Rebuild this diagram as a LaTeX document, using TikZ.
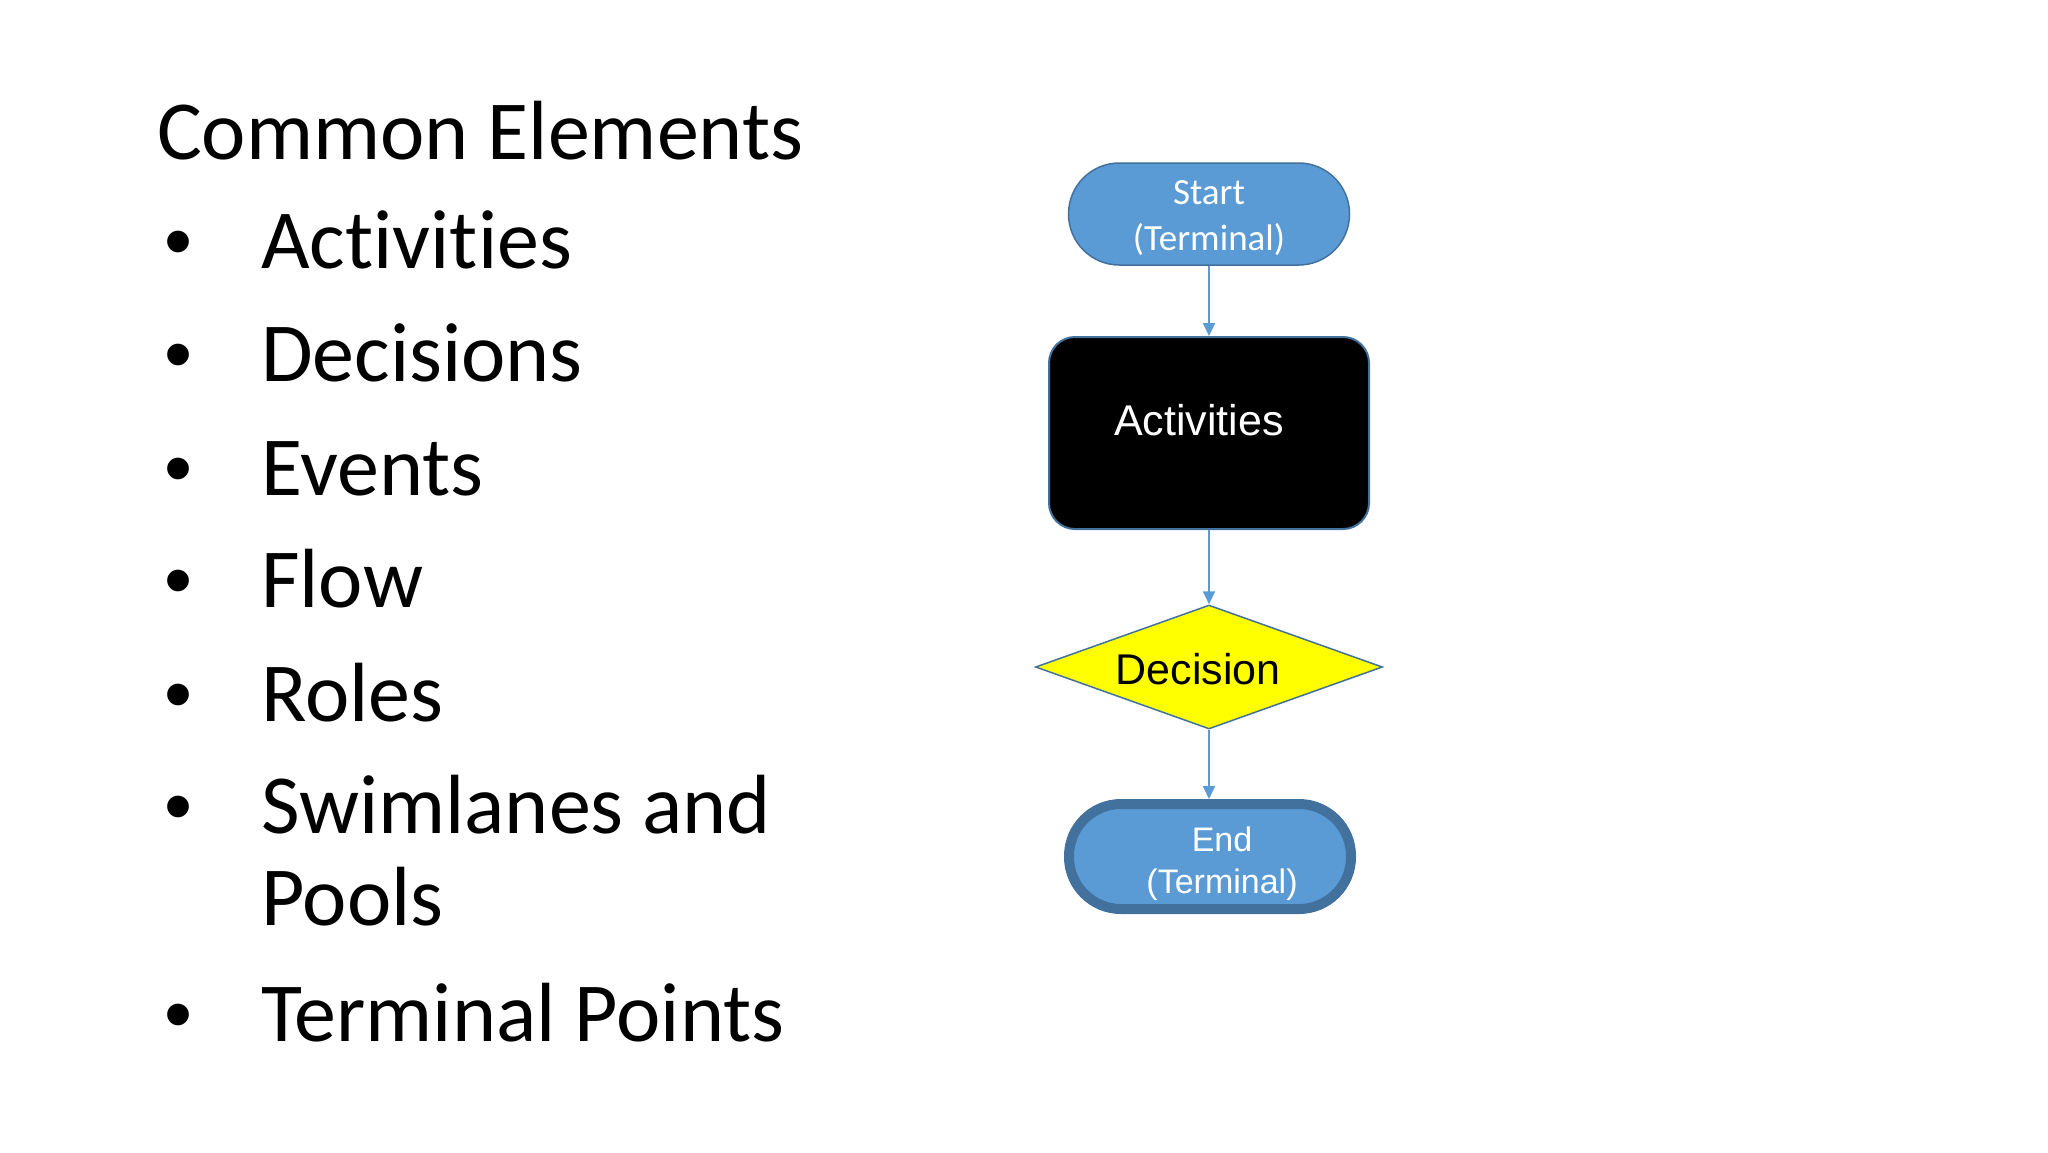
\documentclass[tikz,border=0pt]{standalone}
\usepackage{fontspec}
\setmainfont{Carlito}[Ligatures=NoCommon]
\newfontfamily\arialf{Liberation Sans}
\usetikzlibrary{shapes.geometric,arrows.meta}
\definecolor{termfill}{RGB}{91,155,213}
\definecolor{termborder}{RGB}{65,113,156}
\definecolor{flowcol}{RGB}{91,155,213}
\definecolor{diayellow}{RGB}{255,255,0}
\tikzset{
  bigtext/.style={inner sep=0pt, anchor=base west, font=\fontsize{84}{100}\selectfont},
  bulletdot/.style={inner sep=0pt, anchor=base, font=\arialf\fontsize{80}{100}\selectfont},
  startshape/.style={rectangle, rounded corners=50.9pt, minimum width=281pt, minimum height=102pt, fill=termfill, draw=termborder, line width=1.5pt, inner sep=0pt},
  endshape/.style={rectangle, rounded corners=52pt, minimum width=282pt, minimum height=105pt, fill=termfill, draw=termborder, line width=10pt, inner sep=0pt},
  actshape/.style={rectangle, rounded corners=26pt, minimum width=320pt, minimum height=192pt, fill=black, draw=termborder, line width=2pt, inner sep=0pt},
  decshape/.style={diamond, shape aspect=2.8, minimum width=347pt, minimum height=124pt, fill=diayellow, draw=termborder, line width=1.5pt, inner sep=0pt},
  termlabel/.style={inner sep=0pt, anchor=base, text=white, font=\fontsize{37}{44}\selectfont},
  endlabel/.style={inner sep=0pt, anchor=base, text=white, font=\arialf\fontsize{34}{40}\selectfont},
  shapelabel/.style={inner sep=0pt, anchor=base, font=\arialf\fontsize{43}{50}\selectfont},
  flow/.style={draw=flowcol, line width=2pt, -{Triangle[length=13pt,width=12pt]}}
}
\begin{document}
\begin{tikzpicture}[x=1pt,y=-1pt]
\fill[white] (0,0) rectangle (2048,1152);
\useasboundingbox (0,0) rectangle (2048,1152);

% left text
\node[bigtext] (title) at (157,159) {Common Elements};
\foreach \yy/\txt/\nm in {268/Activities/i1, 381/Decisions/i2, 495/Events/i3, 607/Flow/i4, 721/Roles/i5, 833/Swimlanes and/i6, 1041/Terminal Points/i8}{
  \node[bulletdot] (b\nm) at (179,\yy) {•};
  \node[bigtext] (\nm) at (261,\yy) {\txt};
}
\node[bigtext] (i7) at (261,925) {Pools};

% flowchart shapes
\node[startshape] (start) at (1209,214) {};
\node[actshape] (act) at (1209,433) {};
\node[decshape] (dec) at (1209,667) {};
\node[endshape] (end) at (1210,856.5) {};

% labels
\node[termlabel] (startl1) at (1209,204) {Start};
\node[termlabel] (startl2) at (1209,250) {(Terminal)};
\node[shapelabel, text=white] (actl) at (1199,435) {Activities};
\node[shapelabel, text=black] (decl) at (1198,684) {Decision};
\node[endlabel] (endl1) at (1222,851) {End};
\node[endlabel] (endl2) at (1222,893) {(Terminal)};

% connectors
\draw[flow] (start) -- (act);
\draw[flow] (act) -- (dec);
\draw[flow] (dec) -- (end.north -| dec.south);
\end{tikzpicture}
\end{document}
